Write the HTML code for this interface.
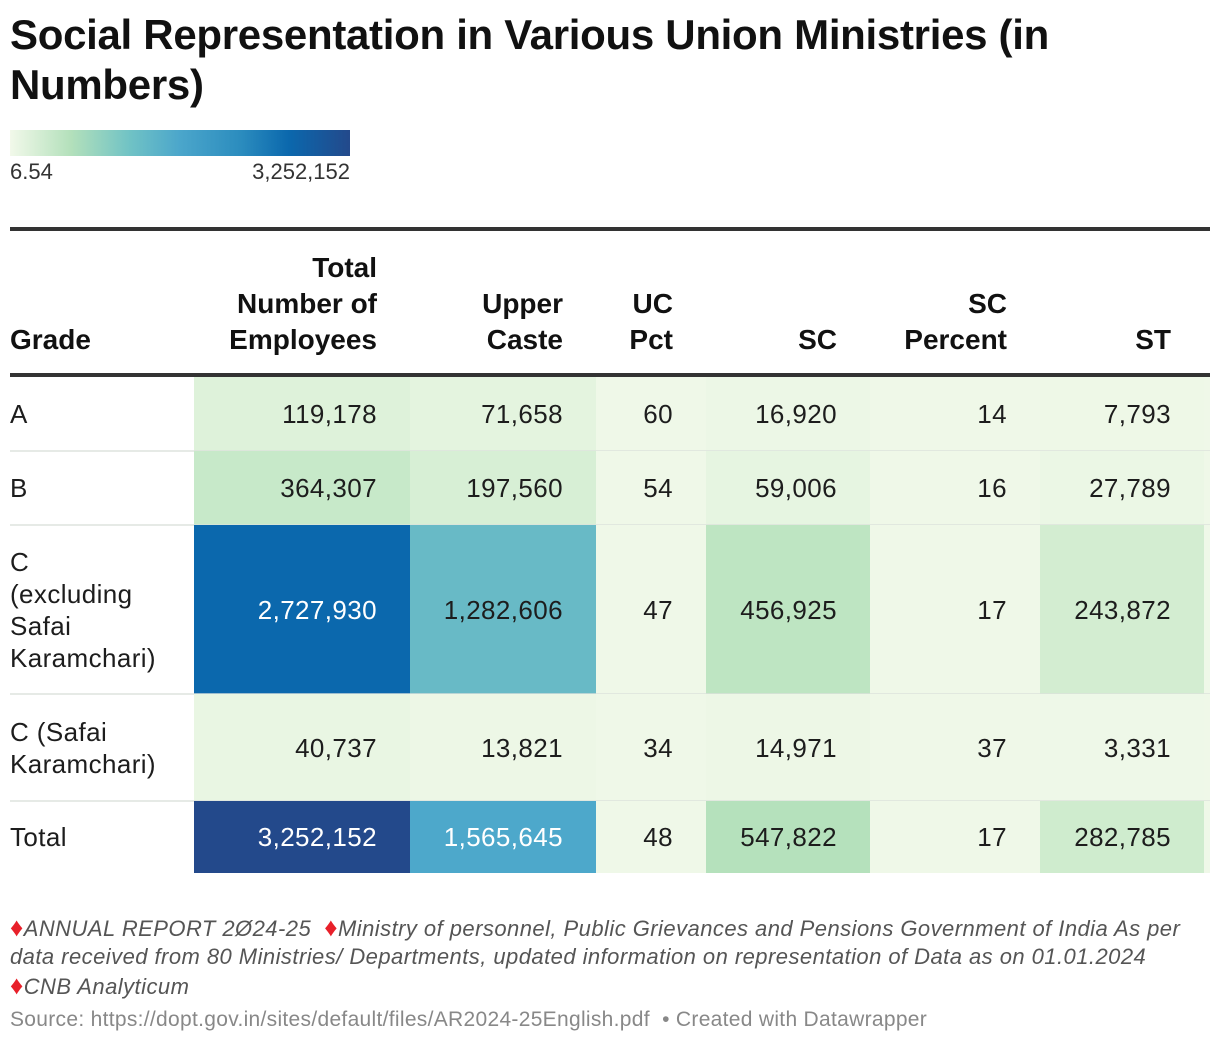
<!DOCTYPE html>
<html><head><meta charset="utf-8">
<style>
body{margin:0;width:1220px;height:1044px;background:#fff;font-family:"Liberation Sans",sans-serif;color:#1d1d1d;position:relative;overflow:hidden}
.a{position:absolute}
#title{left:10px;top:10px;font-size:42px;font-weight:bold;line-height:50px;width:1150px;color:#111;letter-spacing:-0.3px}
.cell{position:absolute;box-sizing:border-box;display:flex;align-items:center;justify-content:flex-end;padding-right:33px;font-size:26px;letter-spacing:0.4px;line-height:32px}
.hd{position:absolute;box-sizing:border-box;font-size:28px;font-weight:bold;line-height:36px;text-align:right;padding-right:33px;display:flex;align-items:flex-end;justify-content:flex-end;color:#111}
.note{left:10px;top:913px;font-size:22px;letter-spacing:0.45px;font-style:italic;color:#555;line-height:28px;width:1200px}
.d{color:#e8202a;font-style:normal;font-size:26px}
</style></head><body>
<div id="title" class="a">Social Representation in Various Union Ministries (in Numbers)</div>
<div class="a" style="left:10px;top:130px;width:340px;height:26px;background:linear-gradient(to right,#f2f9ea 0%,#b3e0bb 18%,#71c3c5 35%,#4ba6cb 50%,#2b8cbe 68%,#0b68ad 82%,#23498b 100%)"></div>
<div class="a" style="left:10px;top:159px;font-size:22px;color:#333">6.54</div>
<div class="a" style="left:150px;width:200px;text-align:right;top:159px;font-size:22px;color:#333">3,252,152</div>
<div class="a" style="left:10px;top:227px;width:1200px;height:4px;background:#333"></div>
<div class="a" style="left:10px;top:373px;width:1200px;height:4px;background:#333"></div>
<div id="tbl"></div>
<div class="a note"><span class="d">♦</span>ANNUAL REPORT 2Ø24-25 &nbsp;<span class="d">♦</span>Ministry of personnel, Public Grievances and Pensions Government of India As per data received from 80 Ministries/ Departments, updated information on representation of Data as on 01.01.2024<br><span class="d">♦</span>CNB Analyticum</div>
<div class="a" style="left:10px;top:1008px;font-size:21px;letter-spacing:0.3px;color:#888">Source: https://dopt.gov.in/sites/default/files/AR2024-25English.pdf &nbsp;• Created with Datawrapper</div>
<script>
const headers=["Grade","Total<br>Number of<br>Employees","Upper<br>Caste","UC<br>Pct","SC","SC<br>Percent","ST"];
const grades=["A","B","C<br>(excluding<br>Safai<br>Karamchari)","C (Safai<br>Karamchari)","Total"];
const totalEmp=[119178,364307,2727930,40737,3252152];
const upperCaste=[71658,197560,1282606,13821,1565645];
const ucPct=[60,54,47,34,48];
const sc=[16920,59006,456925,14971,547822];
const scPct=[14,16,17,37,17];
const st=[7793,27789,243872,3331,282785];
const cols=[10,194,410,596,706,870,1040,1204];
const rows=[377,451,525,694,801,873];
const vmin=6.54,vmax=3252152;
const stops=[[0,[239,248,232]],[0.03,[224,243,220]],[0.11,[200,233,201]],[0.17,[181,225,188]],[0.39,[105,187,198]],[0.48,[77,168,203]],[0.84,[11,104,173]],[1,[35,73,139]]];
function col(v){const t=(v-vmin)/(vmax-vmin);for(let i=1;i<stops.length;i++){if(t<=stops[i][0]){const a=stops[i-1],b=stops[i],f=(t-a[0])/(b[0]-a[0]);return 'rgb('+a[1].map((c,k)=>Math.round(c+(b[1][k]-c)*f)).join(',')+')';}}return 'rgb(35,73,139)';}
const tbl=document.getElementById('tbl');
headers.forEach((h,i)=>{const d=document.createElement('div');d.className='hd';


d.style.left=cols[i]+'px';d.style.top='240px';d.style.width=(cols[i+1]-cols[i])+'px';d.style.height='118px';
if(i==0){d.style.justifyContent='flex-start';d.style.textAlign='left';d.style.paddingRight='0';}
d.innerHTML=h;tbl.appendChild(d);});
const series=[totalEmp,upperCaste,ucPct,sc,scPct,st];
grades.forEach((g,r)=>{
const y=rows[r],h=rows[r+1]-rows[r];
const gd=document.createElement('div');gd.className='cell';


gd.style.cssText+='left:10px;top:'+y+'px;width:184px;height:'+h+'px;justify-content:flex-start;padding-right:0';
gd.innerHTML=g;tbl.appendChild(gd);
series.forEach((s,c)=>{const v=s[r];const d=document.createElement('div');d.className='cell';


d.style.left=cols[c+1]+'px';d.style.top=y+'px';d.style.width=(cols[c+2]-cols[c+1])+'px';d.style.height=h+'px';
d.style.background=col(v);
if((v-vmin)/(vmax-vmin)>0.45)d.style.color='#fff';
d.textContent=v.toLocaleString('en-US');tbl.appendChild(d);});
const ex=document.createElement('div');ex.className='a';


ex.style.cssText='left:1204px;top:'+y+'px;width:6px;height:'+h+'px;background:#eff8e8';tbl.appendChild(ex);
if(r<grades.length-1){const l=document.createElement('div');l.className='a';


l.style.cssText='left:10px;top:'+(rows[r+1]-1)+'px;width:1200px;height:2px;background:rgba(220,225,220,0.7)';tbl.appendChild(l);}
});
</script>
</body></html>
